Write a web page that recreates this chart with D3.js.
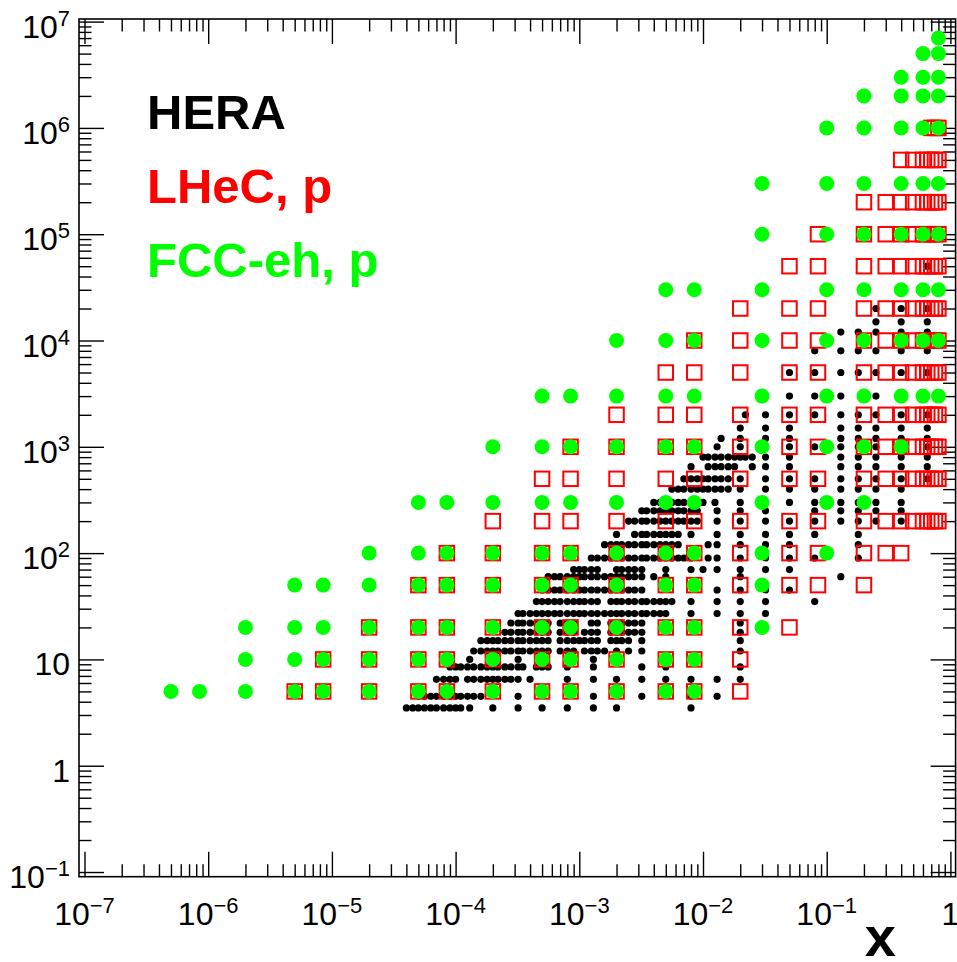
<!DOCTYPE html>
<html>
<head>
<meta charset="utf-8">
<script src="https://cdn.jsdelivr.net/npm/d3@7"></script>
<style>
  html, body { margin: 0; padding: 0; background: #fff; }
  svg { display: block; }
  text { font-family: "Liberation Sans", Arial, Helvetica, sans-serif; }
</style>
</head>
<body>
<svg id="chart" width="957" height="962"></svg>
<script>
// Kinematic plane (x, Q2) covered by HERA, LHeC and FCC-eh.

// HERA measured points, one row per Q2 value
const heraQ2 = [3.5, 4.5, 6.5, 8.5, 10, 12, 15, 18, 22, 27, 35, 45, 60, 70, 90, 120, 150,
  200, 250, 300, 400, 500, 650, 800, 1000, 1200, 1500, 2000, 3000, 5000, 8000, 12000,
  15000, 20000, 50000];
const heraX = [
  [4e-5, 4.5e-5, 5e-5, 5.6e-5, 6.3e-5, 7e-5, 8e-5, 9e-5, 1e-4, 1.1e-4, 1.3e-4, 2e-4, 3.2e-4, 5e-4, 8e-4, 1.3e-3, 2e-3, 8e-3],
  [5e-5, 5.6e-5, 6.3e-5, 7e-5, 8e-5, 9e-5, 1e-4, 1.1e-4, 1.25e-4, 1.4e-4, 1.6e-4, 3.2e-4, 1.3e-3, 3.2e-3, 8e-3, 1.3e-2],
  [7e-5, 8e-5, 9e-5, 1e-4, 1.25e-4, 1.4e-4, 1.6e-4, 1.8e-4, 2e-4, 2.2e-4, 2.5e-4, 2.8e-4, 3.2e-4, 4e-4, 8e-4, 1.3e-3, 2e-3, 3.2e-3, 5e-3, 8e-3, 1.3e-2, 2e-2],
  [9e-5, 1e-4, 1.1e-4, 1.25e-4, 1.4e-4, 1.6e-4, 1.8e-4, 2e-4, 2.2e-4, 2.5e-4, 2.8e-4, 3.2e-4, 3.5e-4, 4.5e-4, 5e-4, 5.6e-4, 8e-4, 1.3e-3, 3.2e-3, 5e-3, 2e-2],
  [1.3e-4, 3.2e-4, 1.3e-3],
  [1.4e-4, 1.6e-4, 1.8e-4, 2e-4, 2.2e-4, 2.5e-4, 2.8e-4, 3.2e-4, 3.5e-4, 4e-4, 4.5e-4, 5e-4, 5.6e-4, 7e-4, 8e-4, 9e-4, 1.1e-3, 1.25e-3, 1.4e-3, 1.6e-3, 2e-3, 2.5e-3, 3.2e-3, 2e-2],
  [1.6e-4, 1.8e-4, 2e-4, 2.2e-4, 2.5e-4, 2.8e-4, 3.2e-4, 3.5e-4, 4e-4, 4.5e-4, 5e-4, 5.6e-4, 7e-4, 8e-4, 9e-4, 1e-3, 1.1e-3, 1.25e-3, 1.4e-3, 1.8e-3, 2e-3, 2.2e-3, 2.5e-3, 3.2e-3, 2e-2],
  [2.5e-4, 2.8e-4, 3.2e-4, 3.5e-4, 4e-4, 4.5e-4, 5e-4, 5.6e-4, 7e-4, 8e-4, 9e-4, 1.1e-3, 1.25e-3, 1.4e-3, 1.8e-3, 2e-3, 2.2e-3, 2.5e-3, 2.8e-3, 3.2e-3, 2e-2],
  [2.8e-4, 3.2e-4, 3.5e-4, 4e-4, 4.5e-4, 5e-4, 5.6e-4, 7e-4, 8e-4, 9e-4, 1.25e-3, 1.4e-3, 1.8e-3, 2e-3, 2.2e-3, 2.5e-3, 2.8e-3, 3.2e-3, 2e-2],
  [3.2e-4, 3.5e-4, 4e-4, 4.5e-4, 5e-4, 5.6e-4, 6.3e-4, 7e-4, 8e-4, 9e-4, 1e-3, 1.1e-3, 1.25e-3, 1.4e-3, 1.6e-3, 1.8e-3, 2e-3, 2.2e-3, 2.5e-3, 2.8e-3, 3.2e-3, 3.5e-3, 4e-3, 4.5e-3, 5e-3, 8e-3, 1.3e-2, 2e-2, 3.2e-2],
  [4.5e-4, 5e-4, 5.6e-4, 6.3e-4, 7e-4, 8e-4, 9e-4, 1e-3, 1.1e-3, 1.25e-3, 1.4e-3, 1.8e-3, 2e-3, 2.2e-3, 2.5e-3, 2.8e-3, 3.2e-3, 3.5e-3, 4e-3, 4.5e-3, 5e-3, 5.6e-3, 8e-3, 1.3e-2, 2e-2, 3.2e-2, 8e-2],
  [5e-4, 5.6e-4, 6.3e-4, 7e-4, 8e-4, 9e-4, 1e-3, 1.1e-3, 1.25e-3, 1.4e-3, 1.6e-3, 1.8e-3, 2e-3, 2.2e-3, 2.5e-3, 2.8e-3, 3.2e-3, 1.3e-2, 2e-2, 3.2e-2, 5e-2],
  [5.6e-4, 6.3e-4, 7e-4, 8e-4, 9e-4, 1e-3, 1.1e-3, 1.25e-3, 1.4e-3, 1.6e-3, 1.8e-3, 2e-3, 2.2e-3, 2.5e-3, 2.8e-3, 3.2e-3, 4e-3, 5e-3, 2e-2, 0.13],
  [9e-4, 1e-3, 1.1e-3, 1.25e-3, 1.4e-3, 2e-3, 2.2e-3, 2.5e-3, 2.8e-3, 3.2e-3, 5e-3, 8e-3, 1e-2, 1.3e-2, 2e-2, 3.2e-2, 5e-2],
  [1.25e-3, 1.4e-3, 1.6e-3, 1.8e-3, 2e-3, 2.2e-3, 2.5e-3, 2.8e-3, 3.2e-3, 3.5e-3, 4e-3, 4.5e-3, 5e-3, 5.6e-3, 6.3e-3, 7e-3, 8e-3, 1.1e-2, 1.3e-2, 2e-2, 3.2e-2, 5e-2, 8e-2, 0.18],
  [1.6e-3, 1.8e-3, 2e-3, 2.2e-3, 2.5e-3, 2.8e-3, 3.2e-3, 3.5e-3, 4e-3, 4.5e-3, 5e-3, 5.6e-3, 6.3e-3, 1.1e-2, 1.3e-2, 2e-2, 3.2e-2, 5e-2, 0.18],
  [2e-3, 2.8e-3, 3.2e-3, 3.5e-3, 4e-3, 4.5e-3, 5e-3, 5.6e-3, 6.3e-3, 8e-3, 1.3e-2, 2e-2, 3.2e-2, 5e-2, 8e-2, 0.18],
  [2.5e-3, 2.8e-3, 3.2e-3, 3.5e-3, 4e-3, 4.5e-3, 5e-3, 5.6e-3, 6.3e-3, 7e-3, 8e-3, 9e-3, 1.3e-2, 2e-2, 3.2e-2, 5e-2, 8e-2, 0.13, 0.18, 0.25, 0.4],
  [3.2e-3, 3.5e-3, 4e-3, 4.5e-3, 5e-3, 5.6e-3, 6.3e-3, 7e-3, 8e-3, 9e-3, 1.3e-2, 2e-2, 3.2e-2, 8e-2, 0.13, 0.18, 0.25, 0.4],
  [4e-3, 4.5e-3, 5e-3, 5.6e-3, 6.3e-3, 7e-3, 8e-3, 9e-3, 1e-2, 1.25e-2, 2e-2, 3.2e-2, 5e-2, 8e-2, 0.13, 0.18, 0.25, 0.4],
  [5.6e-3, 6.3e-3, 7e-3, 8e-3, 9e-3, 1e-2, 1.1e-2, 1.25e-2, 1.4e-2, 1.6e-2, 2e-2, 3.2e-2, 5e-2, 8e-2, 0.13, 0.18, 0.25, 0.4],
  [7e-3, 8e-3, 9e-3, 1e-2, 1.1e-2, 1.25e-2, 1.4e-2, 1.6e-2, 2e-2, 3.2e-2, 5e-2, 8e-2, 0.13, 0.18, 0.25, 0.4, 0.65],
  [8e-3, 1.1e-2, 1.25e-2, 1.4e-2, 1.6e-2, 1.8e-2, 2.5e-2, 3.2e-2, 5e-2, 0.13, 0.18, 0.25, 0.4, 0.65],
  [1e-2, 1.1e-2, 1.25e-2, 1.4e-2, 1.6e-2, 1.8e-2, 2e-2, 2.2e-2, 2.5e-2, 3.2e-2, 5e-2, 0.13, 0.18, 0.25, 0.4, 0.65],
  [1.3e-2, 2e-2, 3.2e-2, 5e-2, 8e-2, 0.13, 0.18, 0.25, 0.4, 0.65],
  [1.4e-2, 2e-2, 3.2e-2, 5e-2, 0.13, 0.18, 0.25, 0.4, 0.65],
  [2e-2, 3.2e-2, 5e-2, 0.13, 0.18, 0.25, 0.4, 0.65],
  [2.2e-2, 3.2e-2, 5e-2, 8e-2, 0.13, 0.18, 0.25, 0.4, 0.65],
  [5e-2, 8e-2, 0.13, 0.25],
  [5e-2, 8e-2, 0.13, 0.18, 0.25, 0.4, 0.65],
  [8e-2, 0.13, 0.18, 0.25, 0.4, 0.65],
  [0.13, 0.18, 0.25, 0.4, 0.65],
  [0.25, 0.4, 0.65],
  [0.25, 0.4, 0.65],
  [0.65]
];

// LHeC pseudo-data, one column per x value
const lhecX = [5e-6, 8.5e-6, 2e-5, 5e-5, 8.5e-5, 2e-4, 5e-4, 8.5e-4, 2e-3, 5e-3, 8.5e-3,
  2e-2, 5e-2, 8.5e-2, 0.2, 0.3, 0.4, 0.5, 0.6, 0.65, 0.7, 0.75, 0.8];
const lhecQ2 = [
  [5],
  [5, 10],
  [5, 10, 20],
  [5, 10, 20, 50],
  [5, 10, 20, 50, 100],
  [5, 10, 20, 50, 100, 200],
  [5, 10, 20, 50, 100, 200, 500],
  [5, 10, 20, 50, 100, 200, 500, 1000],
  [5, 10, 20, 50, 100, 200, 500, 1000, 2000],
  [5, 10, 20, 50, 100, 200, 500, 1000, 2000, 5000],
  [5, 10, 20, 50, 100, 200, 500, 1000, 2000, 5000, 1e4],
  [5, 10, 20, 50, 100, 200, 500, 1000, 2000, 5000, 1e4, 2e4],
  [20, 50, 100, 200, 500, 1000, 2000, 5000, 1e4, 2e4, 5e4],
  [50, 100, 200, 500, 1000, 2000, 5000, 1e4, 2e4, 5e4, 1e5],
  [50, 100, 200, 500, 1000, 2000, 5000, 1e4, 2e4, 5e4, 1e5, 2e5],
  [100, 200, 500, 1000, 2000, 5000, 1e4, 2e4, 5e4, 1e5, 2e5],
  [100, 200, 500, 1000, 2000, 5000, 1e4, 2e4, 5e4, 1e5, 2e5, 5e5],
  [200, 500, 1000, 2000, 5000, 1e4, 2e4, 5e4, 1e5, 2e5, 5e5],
  [200, 500, 1000, 2000, 5000, 1e4, 2e4, 5e4, 1e5, 2e5, 5e5],
  [200, 500, 1000, 2000, 5000, 1e4, 2e4, 5e4, 1e5, 2e5, 5e5],
  [200, 500, 1000, 2000, 5000, 1e4, 2e4, 5e4, 1e5, 2e5, 5e5, 1e6],
  [200, 500, 1000, 2000, 5000, 1e4, 2e4, 5e4, 1e5, 2e5, 5e5, 1e6],
  [200, 500, 1000, 2000, 5000, 1e4, 2e4, 5e4, 1e5, 2e5, 5e5, 1e6]
];

// FCC-eh pseudo-data, one column per x value
const fccX = [5e-7, 8.5e-7, 2e-6, 5e-6, 8.5e-6, 2e-5, 5e-5, 8.5e-5, 2e-4, 5e-4, 8.5e-4,
  2e-3, 5e-3, 8.5e-3, 3e-2, 0.1, 0.2, 0.4, 0.6, 0.8];
const fccQ2 = [
  [5],
  [5],
  [5, 10, 20],
  [5, 10, 20, 50],
  [5, 10, 20, 50],
  [5, 10, 20, 50, 100],
  [5, 10, 20, 50, 100, 300],
  [5, 10, 20, 50, 100, 300],
  [5, 10, 20, 50, 100, 300, 1000],
  [5, 10, 20, 50, 100, 300, 1000, 3000],
  [5, 10, 20, 50, 100, 300, 1000, 3000],
  [5, 10, 20, 50, 100, 300, 1000, 3000, 1e4],
  [5, 10, 20, 50, 100, 300, 1000, 3000, 1e4, 3e4],
  [5, 10, 20, 50, 100, 300, 1000, 3000, 1e4, 3e4],
  [20, 50, 100, 300, 1000, 3000, 1e4, 3e4, 1e5, 3e5],
  [100, 300, 1000, 3000, 1e4, 3e4, 1e5, 3e5, 1e6],
  [300, 1000, 3000, 1e4, 3e4, 1e5, 3e5, 1e6, 2e6],
  [1000, 3000, 1e4, 3e4, 1e5, 3e5, 1e6, 2e6, 3e6],
  [3000, 1e4, 3e4, 1e5, 3e5, 1e6, 2e6, 3e6, 5e6],
  [3000, 1e4, 3e4, 1e5, 3e5, 1e6, 2e6, 3e6, 5e6, 7e6]
];

const legendLabels = ['HERA', 'LHeC, p', 'FCC-eh, p'];
const legendColors = ['#000000', '#ff0000', '#00ff00'];

// frame in pixels (ROOT pad)
const frame = {left: 79, right: 955.6, top: 19, bottom: 876.7};

const svg = d3.select('#chart');

const x = d3.scaleLog()
  .domain([Math.pow(10, -7.0445), Math.pow(10, 0.042)])
  .range([frame.left, frame.right]);
const y = d3.scaleLog()
  .domain([Math.pow(10, -1.044), Math.pow(10, 7.0245)])
  .range([frame.bottom, frame.top]);

// split decades (1 x 10^n) from the 2..9 minor ticks
function logTicks(scale) {
  const [a, b] = scale.domain();
  const major = [], minor = [];
  for (let e = Math.floor(Math.log10(a)); e <= Math.ceil(Math.log10(b)); e++) {
    for (let k = 1; k < 10; k++) {
      const v = k * Math.pow(10, e);
      if (v < a || v > b) continue;
      (k === 1 ? major : minor).push(v);
    }
  }
  return {major, minor};
}

const xt = logTicks(x);
const yt = logTicks(y);

function drawAxis(axisFn, scale, ticks, transform) {
  [[ticks.major, 25], [ticks.minor, 12.5]].forEach(function([vals, len]) {
    const g = svg.append('g')
      .attr('transform', transform)
      .call(axisFn(scale).tickValues(vals).tickSize(-len).tickSizeOuter(0).tickFormat(''));
    g.select('.domain').remove();
    g.selectAll('.tick line').attr('stroke', '#000').attr('stroke-width', 1.4);
  });
}

drawAxis(d3.axisBottom, x, xt, `translate(0,${frame.bottom})`);
drawAxis(d3.axisTop, x, xt, `translate(0,${frame.top})`);
drawAxis(d3.axisLeft, y, yt, `translate(${frame.left},0)`);
drawAxis(d3.axisRight, y, yt, `translate(${frame.right},0)`);

svg.append('rect')
  .attr('x', frame.left).attr('y', frame.top)
  .attr('width', frame.right - frame.left)
  .attr('height', frame.bottom - frame.top)
  .attr('fill', 'none')
  .attr('stroke', '#000')
  .attr('stroke-width', 1.6);

// "10^n" labels, with 1 and 10 written plainly like ROOT does
function powerLabel(sel, v) {
  const e = Math.round(Math.log10(v));
  if (e === 0) { sel.text('1'); return; }
  if (e === 1) { sel.text('10'); return; }
  sel.append('tspan').text('10');
  sel.append('tspan')
    .attr('dy', -12)
    .attr('font-size', 22)
    .text(String(e).replace('-', '\u2212'));
}

xt.major.forEach(function(v) {
  svg.append('text')
    .attr('x', x(v))
    .attr('y', 925)
    .attr('text-anchor', 'middle')
    .attr('font-size', 32)
    .call(powerLabel, v);
});

yt.major.forEach(function(v) {
  svg.append('text')
    .attr('x', 70)
    .attr('y', y(v) + 16)
    .attr('text-anchor', 'end')
    .attr('font-size', 32)
    .call(powerLabel, v);
});

svg.append('text')
  .attr('x', 896)
  .attr('y', 956)
  .attr('text-anchor', 'end')
  .attr('font-size', 56)
  .attr('font-weight', 'bold')
  .text('x');

// points: HERA below, then LHeC squares, FCC-eh discs on top
const hera = [];
heraQ2.forEach((q, i) => heraX[i].forEach(v => hera.push({x: v, q: q})));
const lhec = [];
lhecX.forEach((v, i) => lhecQ2[i].forEach(q => lhec.push({x: v, q: q})));
const fcc = [];
fccX.forEach((v, i) => fccQ2[i].forEach(q => fcc.push({x: v, q: q})));

svg.append('g').selectAll('circle')
  .data(hera)
  .join('circle')
  .attr('cx', d => x(d.x))
  .attr('cy', d => y(d.q))
  .attr('r', 3.6)
  .attr('fill', '#000');

const sq = 14.5;
svg.append('g').selectAll('rect')
  .data(lhec)
  .join('rect')
  .attr('x', d => x(d.x) - sq / 2)
  .attr('y', d => y(d.q) - sq / 2)
  .attr('width', sq)
  .attr('height', sq)
  .attr('fill', 'none')
  .attr('stroke', '#ff0000')
  .attr('stroke-width', 2);

svg.append('g').selectAll('circle')
  .data(fcc)
  .join('circle')
  .attr('cx', d => x(d.x))
  .attr('cy', d => y(d.q))
  .attr('r', 7.5)
  .attr('fill', '#00ff00');

// legend text
const legendY = [129.3, 203.3, 276.7];
legendLabels.forEach(function(t, i) {
  svg.append('text')
    .attr('x', 147)
    .attr('y', legendY[i])
    .attr('font-size', 49)
    .attr('font-weight', 'bold')
    .attr('fill', legendColors[i])
    .text(t);
});
</script>
</body>
</html>
